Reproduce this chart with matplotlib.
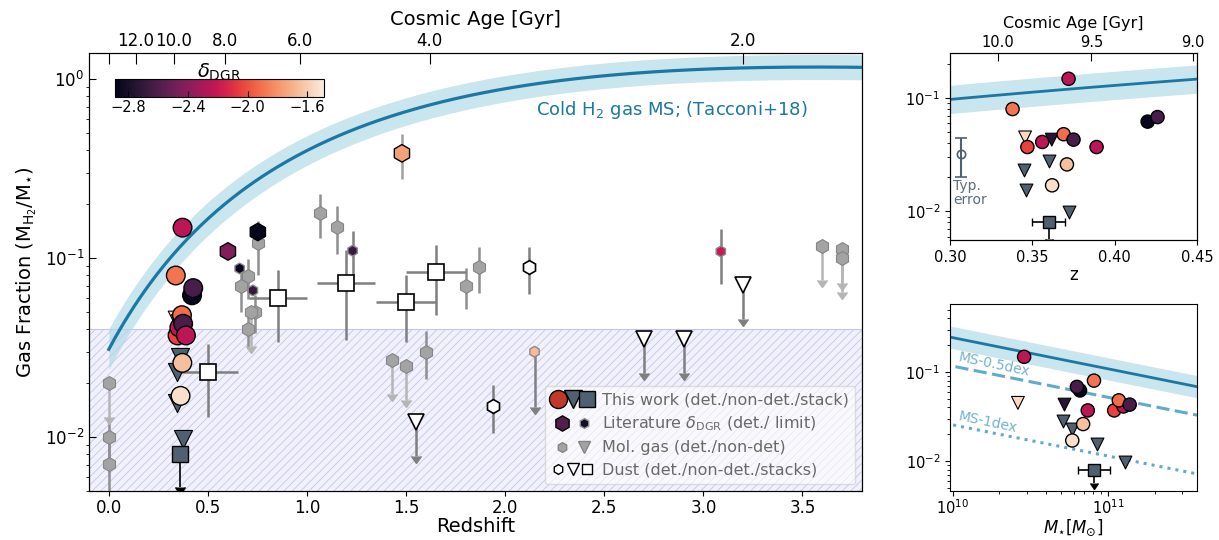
import numpy as np
import matplotlib
matplotlib.use("Agg")
import matplotlib.pyplot as plt
import seaborn as sns
from matplotlib.lines import Line2D, CARETDOWNBASE
from matplotlib.legend_handler import HandlerTuple
from matplotlib.colors import Normalize
from matplotlib.cm import ScalarMappable
from matplotlib.ticker import FormatStrFormatter

plt.rcParams["font.family"] = ["DejaVu Sans"]
plt.rcParams["hatch.linewidth"] = 0.6

CMAP = sns.color_palette("rocket", as_cmap=True)
NORM = Normalize(vmin=-2.89, vmax=-1.49)

SLATE = "#4f6170"
GRAY = "#a3a3a3"
GRAY_EDGE = "#858585"
MS_BLUE = "#1b77a3"
BAND_BLUE = "#add8e6"
LIGHT_BLUE = "#62aacb"

# ---- this work: detections (circles, coloured by delta_DGR)
tw_z = [0.372, 0.338, 0.420, 0.426, 0.347, 0.356, 0.369, 0.375, 0.389, 0.371, 0.362]
tw_f = [0.148, 0.080, 0.062, 0.068, 0.037, 0.041, 0.048, 0.043, 0.037, 0.026, 0.017]
tw_logm = [10.46, 10.91, 10.82, 10.80, 11.04, 11.10, 11.07, 11.14, 10.87, 10.84, 10.77]
tw_dgr = [-2.24, -1.90, -2.87, -2.62, -2.04, -2.24, -1.92, -2.62, -2.24, -1.65, -1.53]

# ---- this work: non-detections with a delta_DGR limit (coloured triangles)
twc_z = [0.3456, 0.3618]
twc_f = [0.045, 0.043]
twc_logm = [10.42, 10.72]
twc_dgr = [-1.56, -2.74]

# ---- this work: non-detections (slate triangles)
twn_z = [0.360, 0.345, 0.346, 0.372]
twn_f = [0.028, 0.023, 0.0155, 0.0098]
twn_logm = [10.71, 10.77, 10.93, 11.11]

# ---- this work: stack (upper limit)
stk_z, stk_f, stk_logm = 0.360, 0.0080, 10.91
stk_zerr, stk_merr = 0.010, 0.105

# ---- literature delta_DGR: detections (big hexagons)
lit_z = [0.601, 0.752, 1.479]
lit_f = [0.109, 0.140, 0.385]
lit_ferr = [0.0, 0.0, 0.11]
lit_dgr = [-2.43, -2.87, -1.76]

# ---- literature delta_DGR: limits (small hexagons)
litl_z = [0.660, 0.727, 1.230, 3.088]
litl_f = [0.0876, 0.066, 0.110, 0.109]
litl_ferr = [0.0, 0.0, 0.031, 0.037]
litl_dgr = [-2.87, -2.68, -2.68, -2.20]
litu_z, litu_f, litu_dgr = [2.148], [0.030], [-1.66]

# ---- molecular gas literature: detections
mol_z = [0.0, 0.0, 1.066, 1.150, 0.752, 0.701, 0.668, 0.740, 0.701, 1.600, 1.801, 1.868]
mol_f = [0.0100, 0.0071, 0.179, 0.150, 0.121, 0.079, 0.0698, 0.050, 0.040, 0.030, 0.0698, 0.0895]
mol_ferr = [0.003, 0.003, 0.050, 0.045, 0.040, 0.020, 0.020, 0.012, 0.009, 0.009, 0.018, 0.026]

# ---- molecular gas literature: upper limits
molu_z = [0.0, 0.715, 1.428, 1.499, 3.597, 3.698, 3.698]
molu_f = [0.020, 0.050, 0.0269, 0.0251, 0.117, 0.113, 0.0996]

# ---- dust-based: detections, non-detections, stacks
dust_z = [2.120, 1.940]
dust_f = [0.0894, 0.0150]
dust_ferr = [0.026, 0.0045]
dustu_z = [1.549, 2.699, 2.900, 3.199]
dustu_f = [0.0122, 0.0352, 0.0352, 0.0706]
dsk_z = [0.500, 0.853, 1.197, 1.499, 1.650]
dsk_f = [0.0230, 0.0602, 0.0727, 0.0570, 0.0832]
dsk_zerr = [0.150, 0.145, 0.147, 0.150, 0.150]
dsk_ferr = [0.010, 0.026, 0.038, 0.023, 0.035]

# ---- Tacconi+18 scaling parameters
TAC_A, TAC_B, TAC_F, TAC_D = 0.12, -3.62, 0.66, -0.35
TAC_LOGM = 10.85
TAC_DA, TAC_DB = 0.07, 0.10
SIDE_BAND = 0.125
Z_MASS_PANEL = 0.38
MS_OFFSETS = [-0.32, -0.98]
MS_LABELS = ["MS-0.5dex", "MS-1dex"]
TYP_ERR = (0.307, 0.032, 0.012)

MAIN_AGES = [12.0, 10.0, 8.0, 6.0, 4.0, 2.0]
SIDE_AGES = [10.0, 9.5, 9.0]
LIMIT_DEX = 0.19


def tacconi(z, logm, a=TAC_A, b=TAC_B):
    return 10 ** (a + b * (np.log10(1 + z) - TAC_F) ** 2 + TAC_D * (logm - 10.7))


def z_at_age(t, h0=67.7, om=0.31):
    ol = 1.0 - om
    th = 977.8 / h0
    return (np.sqrt(ol / om) / np.sinh(1.5 * np.sqrt(ol) * t / th)) ** (2 / 3) - 1


def upper_limit(a, x, y, color, dex=LIMIT_DEX, lw=1.8, ms=7, zorder=3):
    # downward arrow from the point: vertical stem plus a filled caret
    x = np.atleast_1d(x)
    y = np.atleast_1d(y)
    lo = y * 10 ** (-dex)
    a.vlines(x, lo, y, colors=color, lw=lw, zorder=zorder)
    a.plot(x, lo, ls="none", marker=CARETDOWNBASE, ms=ms, color=color, zorder=zorder)


fig = plt.figure(figsize=(12.19, 5.4), dpi=100)
ax = fig.add_axes([0.0730, 0.0907, 0.6341, 0.8112])
ax_z = fig.add_axes([0.7793, 0.5556, 0.2027, 0.3463])
ax_m = fig.add_axes([0.7793, 0.0907, 0.2027, 0.3463])
cax = fig.add_axes([0.0943, 0.8204, 0.1714, 0.0333])

# ================= main panel =================
ax.set_yscale("log")
ax.set_xlim(-0.1, 3.8)
ax.set_ylim(0.005, 1.4)

ax.axhspan(1e-4, 0.04, facecolor="#f1f1fb", edgecolor="#c4c4ee", hatch="////",
           linewidth=0.8, zorder=0)

zz = np.linspace(0, 3.8, 300)
ax.fill_between(zz, tacconi(zz, TAC_LOGM, TAC_A - TAC_DA, TAC_B - TAC_DB),
                tacconi(zz, TAC_LOGM, TAC_A + TAC_DA, TAC_B + TAC_DB),
                color=BAND_BLUE, alpha=0.65, lw=0, zorder=1)
ax.plot(zz, tacconi(zz, TAC_LOGM), color=MS_BLUE, lw=2.3, zorder=2)
ax.text(2.155, 0.67, r"Cold H$_2$ gas MS; (Tacconi+18)", color=MS_BLUE,
        fontsize=13, ha="left", va="center")

# molecular gas literature
ax.errorbar(mol_z, mol_f, yerr=mol_ferr, fmt="none", ecolor="#8f8f8f",
            elinewidth=1.8, zorder=3)
upper_limit(ax, molu_z, molu_f, "#b5b5b5")
ax.plot(mol_z, mol_f, "h", ms=10, mfc=GRAY, mec=GRAY_EDGE, mew=0.8, ls="none", zorder=4)
ax.plot(molu_z, molu_f, "h", ms=10, mfc=GRAY, mec=GRAY_EDGE, mew=0.8, ls="none", zorder=4)

# dust-based
ax.errorbar(dsk_z, dsk_f, xerr=dsk_zerr, yerr=dsk_ferr, fmt="none",
            ecolor="#7f7f7f", elinewidth=1.8, zorder=3)
ax.errorbar(dust_z, dust_f, yerr=dust_ferr, fmt="none", ecolor="#7f7f7f",
            elinewidth=1.8, zorder=3)
upper_limit(ax, dustu_z, dustu_f, "#7f7f7f")
ax.plot(dsk_z, dsk_f, "s", ms=11, mfc="white", mec="k", mew=1.2, ls="none", zorder=5)
ax.plot(dust_z, dust_f, "h", ms=10, mfc="white", mec="k", mew=1.2, ls="none", zorder=5)
ax.plot(dustu_z, dustu_f, "v", ms=11, mfc="white", mec="k", mew=1.2, ls="none", zorder=5)

# literature delta_DGR
ax.errorbar(lit_z, lit_f, yerr=lit_ferr, fmt="none", ecolor="#a0a0a0",
            elinewidth=1.8, zorder=3)
ax.errorbar(litl_z, litl_f, yerr=litl_ferr, fmt="none", ecolor="#808080",
            elinewidth=1.8, zorder=3)
upper_limit(ax, litu_z, litu_f, "#808080", dex=0.31)
ax.scatter(lit_z, lit_f, c=lit_dgr, cmap=CMAP, norm=NORM, marker="h", s=160,
           edgecolors="k", linewidths=1.0, zorder=6)
ax.scatter(litl_z + litu_z, litl_f + litu_f, c=litl_dgr + litu_dgr, cmap=CMAP, norm=NORM,
           marker="h", s=60, edgecolors="#8a8a8a", linewidths=1.0, zorder=6)

# this work
ax.scatter(twn_z, twn_f, c=SLATE, marker="v", s=170, edgecolors="k", linewidths=0.8, zorder=7)
ax.scatter(twc_z, twc_f, c=twc_dgr, cmap=CMAP, norm=NORM, marker="v", s=170,
           edgecolors="k", linewidths=0.8, zorder=7)
ax.scatter(tw_z, tw_f, c=tw_dgr, cmap=CMAP, norm=NORM, marker="o", s=180,
           edgecolors="k", linewidths=1.0, zorder=8)
upper_limit(ax, stk_z, stk_f, "k", dex=0.18, lw=1.2, zorder=9)
ax.errorbar(stk_z, stk_f, xerr=stk_zerr, fmt="s", ms=11, mfc=SLATE, mec="k", mew=1.0,
            ecolor="k", elinewidth=1.2, capsize=3, zorder=9)

ax.set_xticks(np.arange(0, 3.6, 0.5))
ax.tick_params(axis="both", labelsize=12)
ax.tick_params(axis="x", pad=2)
ax.tick_params(axis="y", which="major", direction="in", length=5)
ax.set_xlabel("Redshift", fontsize=14, labelpad=0)
ax.set_ylabel(r"Gas Fraction (M$_{\rm H_2}$/M$_{\star}$)", fontsize=14, labelpad=4)

top = ax.twiny()
top.set_xlim(ax.get_xlim())
top_ticks = [0.0] + [z_at_age(t) for t in MAIN_AGES]
top.set_xticks(top_ticks)
top.set_xticklabels([""] + [f"{t:.1f}" for t in MAIN_AGES])
top.tick_params(axis="x", direction="in", length=8, labelsize=12, pad=2)
top.set_xlabel("Cosmic Age [Gyr]", fontsize=14, labelpad=5)

handles = [
    (Line2D([], [], marker="o", ls="none", ms=13, mfc="#c0392b", mec="k"),
     Line2D([], [], marker="v", ls="none", ms=13, mfc=SLATE, mec="k"),
     Line2D([], [], marker="s", ls="none", ms=12, mfc=SLATE, mec="k")),
    (Line2D([], [], marker="h", ls="none", ms=11, mfc=CMAP(0.22), mec="k"),
     Line2D([], [], marker="h", ls="none", ms=7, mfc=CMAP(0.05), mec="#8a8a8a")),
    (Line2D([], [], marker="h", ls="none", ms=7, mfc=GRAY, mec=GRAY_EDGE),
     Line2D([], [], marker="v", ls="none", ms=9, mfc=GRAY, mec=GRAY_EDGE)),
    (Line2D([], [], marker="h", ls="none", ms=7, mfc="white", mec="k"),
     Line2D([], [], marker="v", ls="none", ms=8, mfc="white", mec="k"),
     Line2D([], [], marker="s", ls="none", ms=7, mfc="white", mec="k")),
]
labels = ["This work (det./non-det./stack)",
          r"Literature $\delta_{\rm DGR}$ (det./ limit)",
          "Mol. gas (det./non-det)",
          "Dust (det./non-det./stacks)"]
leg = ax.legend(handles, labels, loc="lower right", fontsize=11.5,
                handler_map={tuple: HandlerTuple(ndivide=None, pad=0.0)},
                handlelength=2.7, handletextpad=0.45, framealpha=0.6,
                labelcolor="dimgray", labelspacing=0.45, borderpad=0.4,
                borderaxespad=0.45)
leg.set_zorder(10)

cb = fig.colorbar(ScalarMappable(norm=NORM, cmap=CMAP), cax=cax, orientation="horizontal",
                  ticks=[-2.8, -2.4, -2.0, -1.6])
cb.ax.tick_params(direction="in", labelsize=10.5, length=4, pad=2)
cb.set_label(r"$\delta_{\rm DGR}$", fontsize=14, labelpad=1)
cb.ax.xaxis.set_label_position("top")

# ================= redshift zoom panel =================
ax_z.set_yscale("log")
ax_z.set_xlim(0.30, 0.45)
ax_z.set_ylim(0.0056, 0.25)
zs = np.linspace(0.30, 0.45, 50)
ms_z = tacconi(zs, TAC_LOGM)
ax_z.fill_between(zs, ms_z * 10 ** -SIDE_BAND, ms_z * 10 ** SIDE_BAND,
                  color=BAND_BLUE, alpha=0.65, lw=0, zorder=1)
ax_z.plot(zs, ms_z, color=MS_BLUE, lw=2.0, zorder=2)

ax_z.scatter(twn_z, twn_f, c=SLATE, marker="v", s=85, edgecolors="k", linewidths=0.8, zorder=7)
ax_z.scatter(twc_z, twc_f, c=twc_dgr, cmap=CMAP, norm=NORM, marker="v", s=85,
             edgecolors="k", linewidths=0.8, zorder=7)
ax_z.scatter(tw_z, tw_f, c=tw_dgr, cmap=CMAP, norm=NORM, marker="o", s=90,
             edgecolors="k", linewidths=1.0, zorder=8)
upper_limit(ax_z, stk_z, stk_f, "k", dex=0.15, lw=1.2, ms=6, zorder=9)
ax_z.errorbar(stk_z, stk_f, xerr=stk_zerr, fmt="s", ms=8.5, mfc=SLATE, mec="k", mew=1.0,
              ecolor="k", elinewidth=1.2, capsize=3, zorder=9)
ax_z.errorbar(TYP_ERR[0], TYP_ERR[1], yerr=TYP_ERR[2], fmt="o", ms=6, mfc="none",
              mec=SLATE, ecolor=SLATE, elinewidth=1.5, capsize=4, mew=1.2, zorder=6)
ax_z.text(0.302, 0.0145, "Typ.\nerror", color="#5d6e7d", fontsize=10,
          ha="left", va="center", linespacing=0.95)

ax_z.set_xticks([0.30, 0.35, 0.40, 0.45])
ax_z.xaxis.set_major_formatter(FormatStrFormatter("%.2f"))
ax_z.tick_params(axis="both", labelsize=10.5)
ax_z.set_xlabel("z", fontsize=12, labelpad=1)

top_z = ax_z.twiny()
top_z.set_xlim(ax_z.get_xlim())
top_z.set_xticks([z_at_age(t) for t in SIDE_AGES])
top_z.set_xticklabels([f"{t:.1f}" for t in SIDE_AGES])
top_z.tick_params(axis="x", direction="in", length=6, labelsize=10.5, pad=2)
top_z.set_xlabel("Cosmic Age [Gyr]", fontsize=11.5, labelpad=5)

# ================= stellar mass panel =================
ax_m.set_xscale("log")
ax_m.set_yscale("log")
ax_m.set_xlim(9.6e9, 3.75e11)
ax_m.set_ylim(0.0046, 0.58)
lm = np.linspace(9.9, 11.7, 60)
ms_m = tacconi(Z_MASS_PANEL, lm)
ax_m.fill_between(10 ** lm, ms_m * 10 ** -SIDE_BAND, ms_m * 10 ** SIDE_BAND,
                  color=BAND_BLUE, alpha=0.65, lw=0, zorder=1)
ax_m.plot(10 ** lm, ms_m, color=MS_BLUE, lw=2.0, zorder=2)
ax_m.plot(10 ** lm, ms_m * 10 ** MS_OFFSETS[0], color=LIGHT_BLUE, lw=2.2,
          dashes=(4.3, 1.8), zorder=2)
ax_m.plot(10 ** lm, ms_m * 10 ** MS_OFFSETS[1], color=LIGHT_BLUE, lw=2.2,
          ls=":", zorder=2)
for off, lab in zip(MS_OFFSETS, MS_LABELS):
    lx = 10.03
    ax_m.text(10 ** lx, tacconi(Z_MASS_PANEL, lx) * 10 ** (off + 0.03), lab,
              color=LIGHT_BLUE, fontsize=10, rotation=-12, rotation_mode="anchor",
              ha="left", va="bottom", alpha=0.9)

ax_m.scatter(10 ** np.array(twn_logm), twn_f, c=SLATE, marker="v", s=85,
             edgecolors="k", linewidths=0.8, zorder=7)
ax_m.scatter(10 ** np.array(twc_logm), twc_f, c=twc_dgr, cmap=CMAP, norm=NORM,
             marker="v", s=85, edgecolors="k", linewidths=0.8, zorder=7)
ax_m.scatter(10 ** np.array(tw_logm), tw_f, c=tw_dgr, cmap=CMAP, norm=NORM,
             marker="o", s=90, edgecolors="k", linewidths=1.0, zorder=8)
upper_limit(ax_m, 10 ** stk_logm, stk_f, "k", dex=0.15, lw=1.2, ms=6, zorder=9)
ax_m.errorbar(10 ** stk_logm, stk_f,
              xerr=[[10 ** stk_logm - 10 ** (stk_logm - stk_merr)],
                    [10 ** (stk_logm + stk_merr) - 10 ** stk_logm]],
              fmt="s", ms=8.5, mfc=SLATE, mec="k", mew=1.0, ecolor="k",
              elinewidth=1.2, capsize=3, zorder=9)
ax_m.tick_params(axis="both", labelsize=10.5)
ax_m.tick_params(axis="x", pad=2)
ax_m.set_xlabel(r"$M_{\star} [M_{\odot}]$", fontsize=12, labelpad=0)

fig.savefig("out.png", dpi=100)
